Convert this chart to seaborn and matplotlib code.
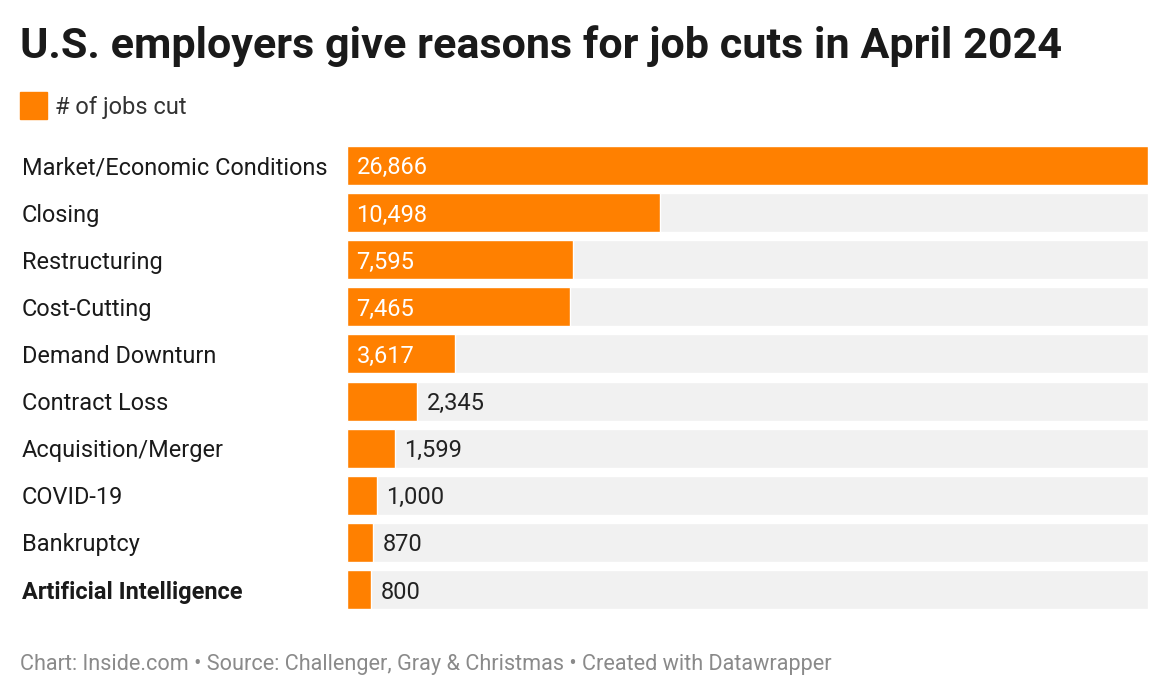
import pandas as pd
import matplotlib.pyplot as plt
import seaborn as sns

# data
reasons = ['Market/Economic Conditions', 'Closing', 'Restructuring', 'Cost-Cutting',
           'Demand Downturn', 'Contract Loss', 'Acquisition/Merger', 'COVID-19',
           'Bankruptcy', 'Artificial Intelligence']
jobs_cut = [26866, 10498, 7595, 7465, 3617, 2345, 1599, 1000, 870, 800]

df = pd.DataFrame({'reason': reasons, 'jobs': jobs_cut})
df['full'] = max(jobs_cut)

orange = '#ff8000'
grey_bg = '#f1f1f1'
bar_w = 0.826

sns.set_style('white')
plt.rcParams['font.family'] = ['Roboto', 'DejaVu Sans']

fig = plt.figure(figsize=(11.7, 6.97), dpi=100)
ax = fig.add_axes([347 / 1170, 1 - 609 / 697, (1148 - 347) / 1170, (609 - 146) / 697])

# background track + actual bars
sns.barplot(data=df, x='full', y='reason', color=grey_bg, width=bar_w, ax=ax, saturation=1)
sns.barplot(data=df, x='jobs', y='reason', color=orange, width=bar_w, ax=ax, saturation=1)

ax.set_xlim(0, max(jobs_cut))
ax.set_ylim(len(reasons) - 1 + bar_w / 2, -bar_w / 2)
ax.set_xlabel('')
ax.set_ylabel('')
ax.set_xticks([])
ax.set_yticks([])
for s in ax.spines.values():
    s.set_visible(False)

# value labels: inside white for long bars, outside dark for short ones
pad = 320
for i, v in enumerate(jobs_cut):
    txt = f'{v:,}'
    if v >= 3000:
        ax.text(pad, i, txt, va='center_baseline', ha='left', color='white', fontsize=17)
    else:
        ax.text(v + pad, i, txt, va='center_baseline', ha='left', color='#222222', fontsize=17)

# category labels on the left
for i, r in enumerate(reasons):
    ax.text(-0.406, i, r, transform=ax.get_yaxis_transform(), va='center_baseline', ha='left',
            fontsize=16.9, color='#1a1a1a',
            fontweight='bold' if r == 'Artificial Intelligence' else 'normal')

# title
fig.text(20 / 1170, 1 - 46 / 697, 'U.S. employers give reasons for job cuts in April 2024',
         fontsize=31.1, fontweight='bold', color='#1a1a1a', va='center', ha='left')

# legend
fig.patches.append(plt.Rectangle((20 / 1170, 1 - 119 / 697), 27 / 1170, 27 / 697,
                                 transform=fig.transFigure, color=orange))
fig.text(55 / 1170, 1 - 105 / 697, '# of jobs cut', fontsize=17, color='#333333',
         va='center_baseline', ha='left')

# footer
fig.text(20 / 1170, 1 - 662 / 697,
         'Chart: Inside.com \u2022 Source: Challenger, Gray & Christmas \u2022 Created with Datawrapper',
         fontsize=15.6, color='#8a8a8a', va='center_baseline', ha='left')

fig.savefig('out.png', dpi=100, facecolor='white')
